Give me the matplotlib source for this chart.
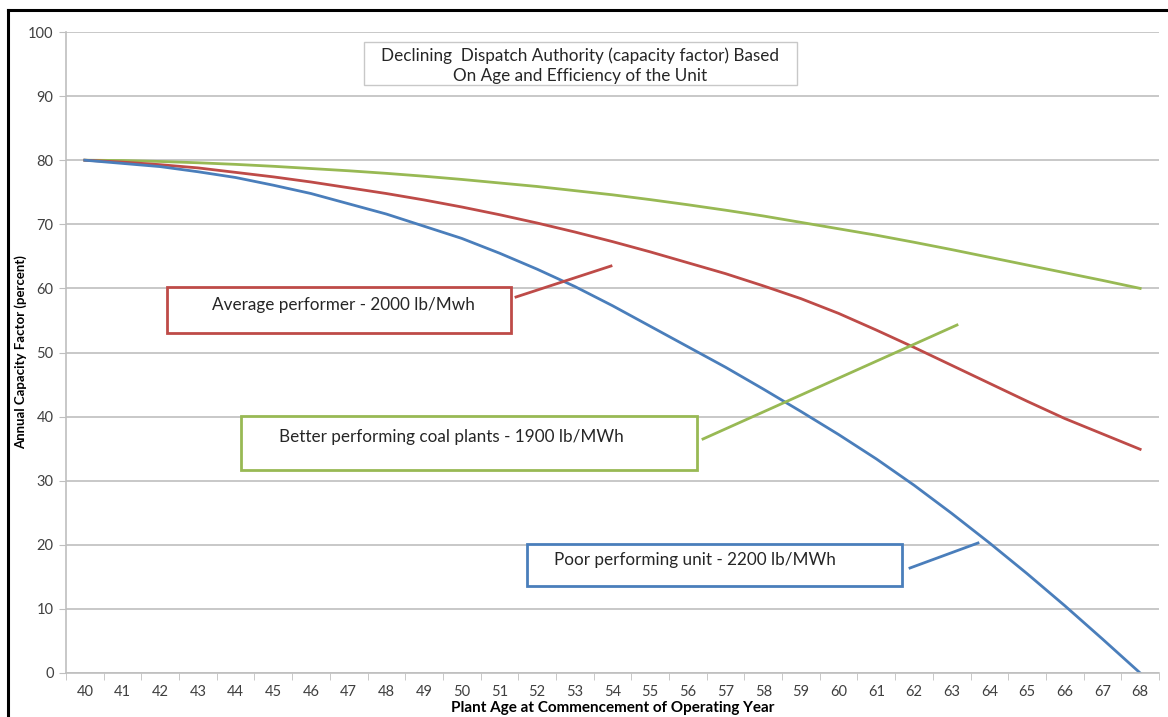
import matplotlib
matplotlib.use("Agg")
import matplotlib.pyplot as plt
from matplotlib.patches import Rectangle
from matplotlib.lines import Line2D

plt.rcParams['font.family'] = ['Lato', 'DejaVu Sans']

# data
ages = list(range(40, 69))
poor_2200 = [80.0, 79.5, 79.0, 78.2, 77.3, 76.1, 74.8, 73.2, 71.6, 69.7,
             67.8, 65.5, 63.0, 60.3, 57.3, 54.1, 50.9, 47.7, 44.3, 40.8,
             37.2, 33.4, 29.3, 24.9, 20.3, 15.5, 10.5, 5.3, 0.0]
avg_2000 = [80.0, 79.7, 79.3, 78.8, 78.1, 77.4, 76.6, 75.7, 74.8, 73.8,
            72.7, 71.5, 70.2, 68.8, 67.3, 65.7, 64.0, 62.3, 60.4, 58.4,
            56.1, 53.5, 50.8, 48.0, 45.2, 42.4, 39.7, 37.3, 34.9]
better_1900 = [80.0, 79.95, 79.8, 79.6, 79.35, 79.05, 78.7, 78.35, 77.95, 77.5,
               77.0, 76.45, 75.9, 75.25, 74.6, 73.85, 73.05, 72.2, 71.3, 70.3,
               69.3, 68.3, 67.2, 66.05, 64.85, 63.65, 62.45, 61.25, 60.0]

BLUE = '#4A7EBB'
RED = '#BE4B48'
GREEN = '#98B954'
GRID = '#BFBFBF'
TXT = '#262626'

W, H = 1168, 717
fig = plt.figure(figsize=(W / 100, H / 100), dpi=100)


def fx(x):
    return x / W


def fy(y):
    return 1 - y / H


ax = fig.add_axes([fx(66), fy(673), fx(1159) - fx(66), fy(32) - fy(673)])

ax.plot(ages, better_1900, color=GREEN, lw=2.0)
ax.plot(ages, avg_2000, color=RED, lw=2.0)
ax.plot(ages, poor_2200, color=BLUE, lw=2.0)

ax.set_xlim(ages[0] - 0.5, ages[-1] + 0.5)
ax.set_ylim(0, 100)
ax.set_yticks(range(0, 101, 10))
ax.set_xticks(ages)
ax.set_xticks([a - 0.5 for a in ages] + [ages[-1] + 0.5], minor=True)
ax.tick_params(axis='x', which='major', length=0, pad=9, labelsize=10.5, colors='#404040')
ax.tick_params(axis='x', which='minor', length=5, color=GRID, direction='out')
ax.tick_params(axis='y', length=5, color=GRID, pad=4, labelsize=10.5, colors='#404040')
ax.yaxis.grid(True, color=GRID, lw=1.2)
ax.set_axisbelow(True)
for s in ['top', 'right']:
    ax.spines[s].set_visible(False)
for s in ['left', 'bottom']:
    ax.spines[s].set_color(GRID)
    ax.spines[s].set_linewidth(1.2)

ax.set_xlabel('Plant Age at Commencement of Operating Year', fontsize=11,
              fontweight='bold', labelpad=1)
ax.set_ylabel('Annual Capacity Factor (percent)', fontsize=9.5,
              fontweight='bold', labelpad=1)


def box(x0, y0, x1, y1, color, lw):
    fig.add_artist(Rectangle((fx(x0), fy(y1)), fx(x1) - fx(x0), fy(y0) - fy(y1),
                             transform=fig.transFigure, fill=True, facecolor='white',
                             edgecolor=color, lw=lw))


def seg(x0, y0, x1, y1, color, lw=2.0):
    fig.add_artist(Line2D([fx(x0), fx(x1)], [fy(y0), fy(y1)],
                          transform=fig.transFigure, color=color, lw=lw))


# chart title box
box(364, 42, 797, 85, '#C8C8C8', 1.0)
fig.text(fx(580), fy(66), 'Declining  Dispatch Authority (capacity factor) Based\nOn Age and Efficiency of the Unit',
         ha='center', va='center', fontsize=12.3, color=TXT, linespacing=1.3)

# callouts
box(167, 287, 511, 333, RED, 2.0)
fig.text(fx(343), fy(305), 'Average performer - 2000 lb/Mwh', ha='center', va='center',
         fontsize=12.3, color=TXT)
seg(516, 297, 611, 266, RED)

box(241, 416, 697, 470, GREEN, 2.0)
fig.text(fx(451), fy(437), 'Better performing coal plants - 1900 lb/MWh', ha='center', va='center',
         fontsize=12.3, color=TXT)
seg(703, 439, 957, 325, GREEN)

box(527, 544, 902, 586, BLUE, 2.0)
fig.text(fx(695), fy(560), 'Poor performing unit - 2200 lb/MWh', ha='center', va='center',
         fontsize=12.3, color=TXT)
seg(910, 568, 978, 543, BLUE)

# black frame of the screenshot
seg(8, 10, W, 10, 'black', 2.2)
seg(8, 10, 8, H, 'black', 2.2)

fig.savefig('out.png', dpi=100)
